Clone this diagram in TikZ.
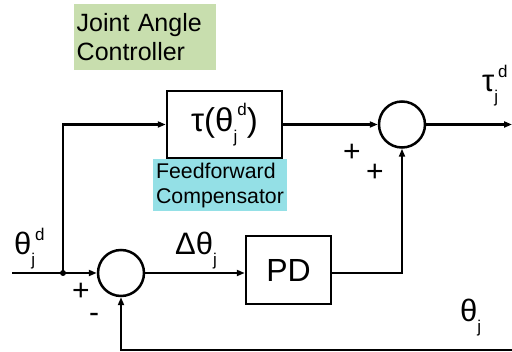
\documentclass[tikz,border=0pt]{standalone}
\usepackage{fontspec}
\setmainfont{Liberation Sans}
\usetikzlibrary{arrows.meta}
\definecolor{titlegreen}{RGB}{200,222,174}
\definecolor{ffcyan}{RGB}{148,224,230}
\newcommand{\sbj}{\raisebox{-0.33em}{\fontsize{17}{17}\selectfont j}}
\newcommand{\spd}{\raisebox{0.48em}{\fontsize{17}{17}\selectfont d}}
\begin{document}
\begin{tikzpicture}[x=1pt,y=-1pt,
  wire/.style={line width=2.4pt},
  arr/.style={wire,-{Triangle[length=8pt,width=6pt]}},
  blk/.style={draw,line width=2.5pt,rectangle,inner sep=0pt},
  sumnode/.style={draw,line width=2.5pt,circle,minimum size=46pt,inner sep=0pt},
  big/.style={font=\fontsize{31}{34}\selectfont},
  sign/.style={font=\fontsize{30}{30}\selectfont,inner sep=0pt}]
\useasboundingbox (0,0) rectangle (512,352);
% title
\node[fill=titlegreen,anchor=north west,minimum width=142pt,minimum height=66pt,
  text width=137pt,align=left,inner sep=2.5pt,font=\fontsize{25}{29}\selectfont] (title) at (74,4) {Joint Angle\\Controller};
% blocks
\node[blk,minimum width=115pt,minimum height=67pt,font=\fontsize{33}{36}\selectfont] (tau) at (224.5,124.5) {τ(θ\sbj\spd)};
\node[fill=ffcyan,minimum width=134pt,minimum height=52pt,align=left,inner sep=0pt,
  font=\fontsize{21.3}{25}\selectfont] (ff) at (220,185) {Feedforward\\Compensator};
\node[sumnode] (s1) at (121,273) {};
\node[blk,minimum width=85pt,minimum height=68pt,font=\fontsize{32}{34}\selectfont] (pd) at (288.5,270) {PD};
\node[sumnode] (s2) at (402,124.5) {};
% coordinates
\coordinate (in) at (12,273);
\coordinate (junc) at (63,273);
\coordinate (out) at (512,124.5);
\coordinate (fb) at (515,350);
% connectors
\draw[arr] (in) -- (s1.west);
\fill (junc) circle (3pt);
\draw[arr] (junc) |- (tau.west);
\draw[arr] (tau.east) -- (s2.west);
\draw[arr] (s1.east) -- (s1.east -| pd.west);
\draw[arr] (s1.east -| pd.east) -| (s2.south);
\draw[arr] (s2.east) -- (out);
\draw[arr] (fb) -| (s1.south);
% labels
\node[big,anchor=base west,inner sep=0pt] (lthd) at (14,255) {θ\sbj\spd};
\node[big,anchor=base west,inner sep=0pt] (ldth) at (175,255) {Δθ\sbj};
\node[big,anchor=base west,inner sep=0pt] (ltau) at (482,92) {τ\sbj\spd};
\node[big,anchor=base west,inner sep=0pt] (lth) at (460,322) {θ\sbj};
\node[sign] (p1) at (81,292) {+};
\node[sign] (m1) at (94,318) {-};
\node[sign] (p2) at (352,153) {+};
\node[sign] (p3) at (375,173) {+};
\end{tikzpicture}
\end{document}
